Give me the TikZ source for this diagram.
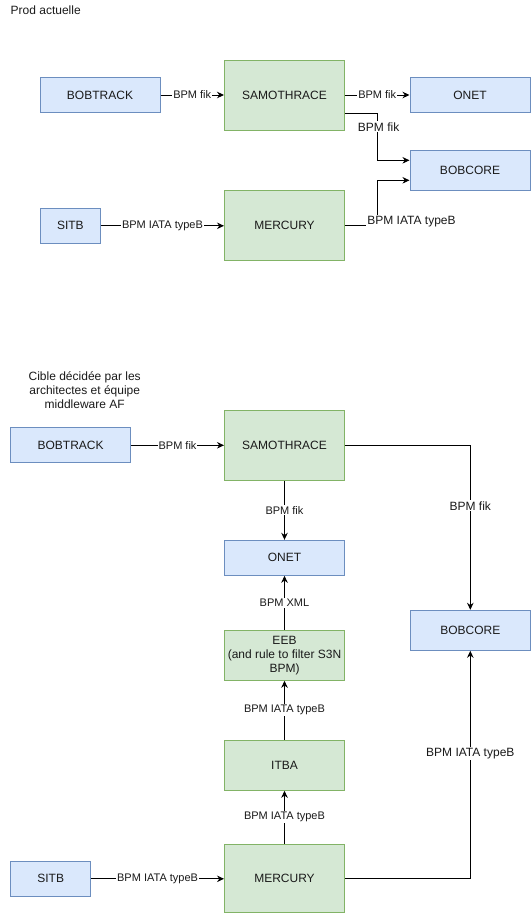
\documentclass[tikz,border=0pt]{standalone}
\usepackage{fontspec}
\setmainfont{Liberation Sans}
\usetikzlibrary{arrows.meta,calc}
\definecolor{bluefill}{HTML}{DAE8FC}
\definecolor{bluedraw}{HTML}{6C8EBF}
\definecolor{greenfill}{HTML}{D5E8D4}
\definecolor{greendraw}{HTML}{82B366}
\definecolor{txt}{HTML}{1A1A1A}
\begin{document}
\begin{tikzpicture}[x=1pt,y=-1pt,
  box/.style={draw, line width=1pt, inner sep=0pt, text=txt, font=\fontsize{12}{14}\selectfont, align=center},
  bluebox/.style={box, fill=bluefill, draw=bluedraw},
  greenbox/.style={box, fill=greenfill, draw=greendraw},
  sz/.style 2 args={minimum width=#1pt, minimum height=#2pt},
  conn/.style={line width=1pt, -{Stealth[length=7pt,width=6.5pt]}},
  lbl/.style={fill=white, inner sep=1pt, text=txt, font=\fontsize{11}{13}\selectfont},
  biglbl/.style={lbl, font=\fontsize{12}{14}\selectfont}
]
\useasboundingbox (0,0) rectangle (531,913);

% ---------- Prod actuelle ----------
\node[anchor=west, text=txt, font=\fontsize{12}{14}\selectfont, inner sep=0pt] (title) at (10.5,10.7) {Prod actuelle};

\node[bluebox, sz={120}{35}] (bt1) at (100,95) {BOBTRACK};
\node[greenbox, sz={120}{70}] (samo1) at (284.5,95.3) {SAMOTHRACE};
\node[bluebox, sz={120}{35}] (onet1) at (470,95) {ONET};
\node[bluebox, sz={120}{40}] (bobcore1) at (470,170.3) {BOBCORE};
\node[bluebox, sz={60}{35}] (sitb1) at (70.4,225.8) {SITB};
\node[greenbox, sz={120}{70}] (merc1) at (284.5,225.5) {MERCURY};

\coordinate (mx) at (377.3,0);
\coordinate (a1) at ([yshift=-18.4pt]samo1.east);
\coordinate (b1) at ([yshift=10pt]bobcore1.west);
\coordinate (b2) at ([yshift=-10pt]bobcore1.west);

\draw[conn] (bt1.east) -- node[lbl] (l1) {BPM fik} (bt1.east -| samo1.west);
\draw[conn] (samo1.east |- onet1.west) -- node[lbl] (l2) {BPM fik} (onet1.west);
\draw[conn] (a1) -- (a1 -| mx) -- (b1 -| mx) -- (b1);
\node[biglbl] (l3) at (378.6,126.7) {BPM fik};
\draw[conn] (sitb1.east) -- node[lbl] (l4) {BPM IATA typeB} (sitb1.east -| merc1.west);
\draw[conn] (merc1.east) -- (merc1.east -| mx) -- (b2 -| mx) -- (b2);
\node[biglbl] (l5) at (411.5,221.3) {BPM IATA typeB};

% ---------- Cible ----------
\node[align=center, text=txt, font=\fontsize{12}{13.7}\selectfont, inner sep=0pt] (cible) at (84.7,390.3) {Cible décidée par les\\architectes et équipe\\middleware AF};

\node[bluebox, sz={120}{35}] (bt2) at (70.6,445.3) {BOBTRACK};
\node[greenbox, sz={120}{70}] (samo2) at (284.5,445.3) {SAMOTHRACE};
\node[bluebox, sz={120}{35}] (onet2) at (284.5,557.8) {ONET};
\node[greenbox, sz={120}{50}] (eeb) at (284.5,655.3) {EEB\\(and rule to filter S3N\\BPM)};
\node[greenbox, sz={120}{50}] (itba) at (284.5,765.3) {ITBA};
\node[greenbox, sz={120}{68}] (merc2) at (284.5,878.3) {MERCURY};
\node[bluebox, sz={80}{35}] (sitb2) at (50.7,878.8) {SITB};
\node[bluebox, sz={120}{40}] (bobcore2) at (470.3,630.3) {BOBCORE};

\draw[conn] (bt2.east) -- node[lbl] (m1) {BPM fik} (bt2.east -| samo2.west);
\draw[conn] (samo2) -- node[lbl] (m2) {BPM fik} (onet2);
\draw[conn] (eeb) -- node[lbl] (m3) {BPM XML} (onet2);
\draw[conn] (itba) -- node[lbl] (m4) {BPM IATA typeB} (eeb);
\draw[conn] (merc2) -- node[lbl] (m5) {BPM IATA typeB} (itba);
\draw[conn] (sitb2.east) -- node[lbl] (m6) {BPM IATA typeB} (sitb2.east -| merc2.west);
\draw[conn] (samo2.east) -| (bobcore2.north);
\node[biglbl] (m7) at (470.3,505.7) {BPM fik};
\draw[conn] (merc2.east) -| (bobcore2.south);
\node[biglbl] (m8) at (470.3,753.3) {BPM IATA typeB};
\end{tikzpicture}
\end{document}
